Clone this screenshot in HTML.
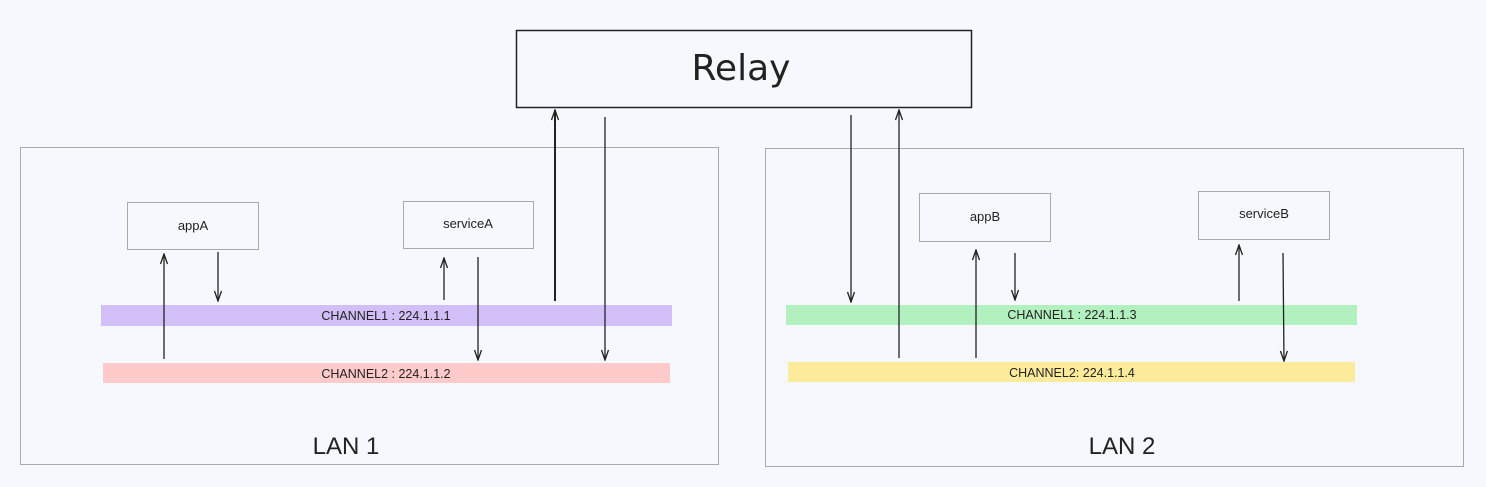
<!DOCTYPE html>
<html><head><meta charset="utf-8"><style>
html,body{margin:0;padding:0;background:#f5f8fc;}
svg{display:block}
text{font-family:"Liberation Sans",sans-serif;fill:#222}
</style></head><body>
<svg width="1486" height="487" viewBox="0 0 1486 487" xmlns="http://www.w3.org/2000/svg">
<defs>
<marker id="a" markerWidth="12" markerHeight="10" refX="11" refY="5" orient="auto" markerUnits="userSpaceOnUse" viewBox="0 0 12 10">
<path d="M1 1.5 L11 5 L1 8.5" fill="none" stroke="#222" stroke-width="1.3"/>
</marker>
</defs>
<rect x="516.5" y="30.5" width="455" height="77" fill="#f5f8fc" stroke="#222" stroke-width="1.5"/>
<text x="741" y="80" font-size="36" text-anchor="middle" style="font-family:'Comic Sans MS','DejaVu Sans',sans-serif">Relay</text>

<rect x="20.5" y="147.5" width="698" height="317" fill="none" stroke="#aaa" stroke-width="1"/>
<rect x="765.5" y="148.5" width="698" height="318" fill="none" stroke="#aaa" stroke-width="1"/>

<rect x="127.5" y="202.5" width="131" height="47" fill="#f5f8fc" stroke="#aaa"/>
<text x="193" y="230" font-size="13" text-anchor="middle">appA</text>
<rect x="403.5" y="201.5" width="130" height="47" fill="#f5f8fc" stroke="#aaa"/>
<text x="468" y="228" font-size="13" text-anchor="middle">serviceA</text>
<rect x="919.5" y="193.5" width="131" height="48" fill="#f5f8fc" stroke="#aaa"/>
<text x="985" y="221" font-size="13" text-anchor="middle">appB</text>
<rect x="1198.5" y="191.5" width="131" height="48" fill="#f5f8fc" stroke="#aaa"/>
<text x="1264" y="218" font-size="13" text-anchor="middle">serviceB</text>

<rect x="101" y="305" width="571" height="21" fill="#d2bff8"/>
<text x="386" y="320" font-size="12.5" text-anchor="middle">CHANNEL1 : 224.1.1.1</text>
<rect x="103" y="363" width="567" height="20" fill="#ffcaca"/>
<text x="386" y="378" font-size="12.5" text-anchor="middle">CHANNEL2 : 224.1.1.2</text>
<rect x="786" y="305" width="571" height="20" fill="#b2f0c0"/>
<text x="1072" y="319" font-size="12.5" text-anchor="middle">CHANNEL1 : 224.1.1.3</text>
<rect x="788" y="362" width="567" height="20" fill="#fdeb9c"/>
<text x="1072" y="377" font-size="12.5" text-anchor="middle">CHANNEL2: 224.1.1.4</text>

<g stroke="#222" stroke-width="1.3" fill="none">
<line x1="164" y1="359" x2="164" y2="254" marker-end="url(#a)"/>
<line x1="218" y1="252" x2="218" y2="301" marker-end="url(#a)"/>
<line x1="444" y1="300" x2="444" y2="258" marker-end="url(#a)"/>
<line x1="478" y1="257" x2="478" y2="360" marker-end="url(#a)"/>
<line x1="555" y1="301" x2="555" y2="110" stroke-width="2" marker-end="url(#a)"/>
<line x1="605" y1="117" x2="605" y2="360" marker-end="url(#a)"/>
<line x1="851" y1="115" x2="851" y2="302" marker-end="url(#a)"/>
<line x1="899" y1="358" x2="899" y2="110" marker-end="url(#a)"/>
<line x1="976" y1="358" x2="976" y2="250" marker-end="url(#a)"/>
<line x1="1015" y1="253" x2="1015" y2="300" marker-end="url(#a)"/>
<line x1="1239" y1="301" x2="1239" y2="245" marker-end="url(#a)"/>
<line x1="1283" y1="253" x2="1284" y2="361" marker-end="url(#a)"/>
</g>

<text x="346" y="454" font-size="24" text-anchor="middle">LAN 1</text>
<text x="1122" y="454" font-size="24" text-anchor="middle">LAN 2</text>
</svg>
</body></html>
